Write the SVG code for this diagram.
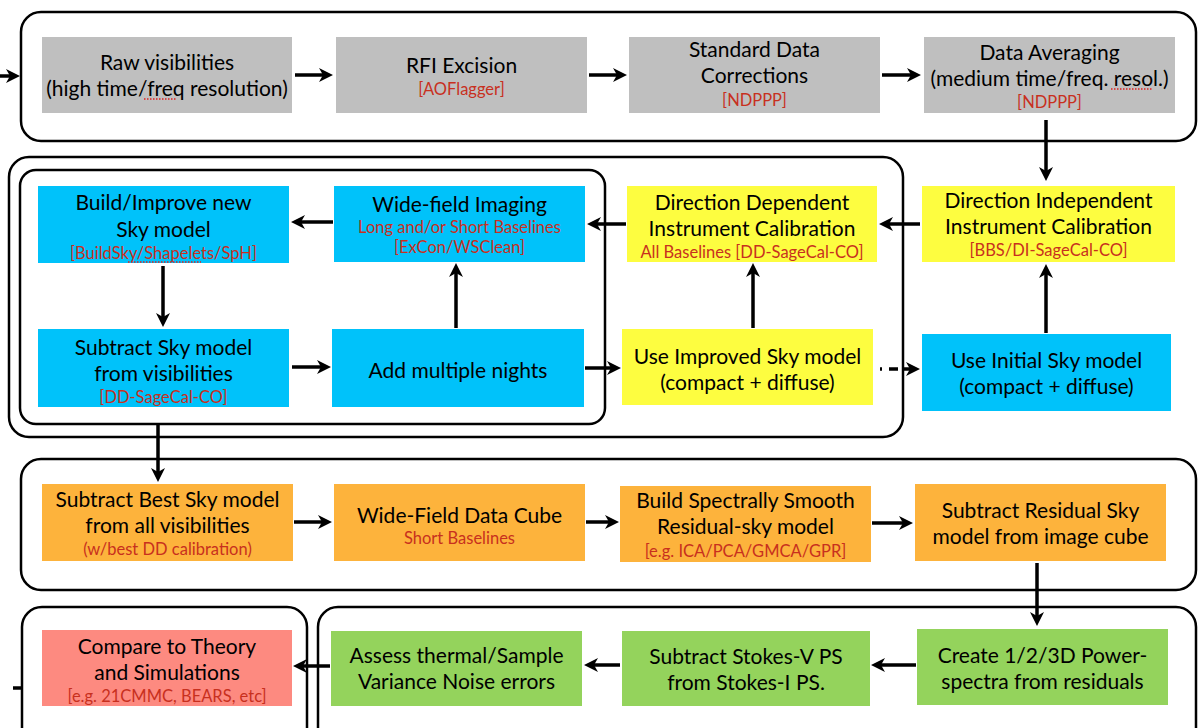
<svg xmlns="http://www.w3.org/2000/svg" width="1198" height="728" viewBox="0 0 1198 728">
<defs>
<style>
.frame{fill:none;stroke:#000;stroke-width:2.5}
.gray{fill:#bfbfbf}
.blue{fill:#00c2fa}
.yellow{fill:#fdfd40}
.orange{fill:#fdb33c}
.green{fill:#94d35c}
.salmon{fill:#fd8a80}
text{font-family:Lato,"Open Sans","Liberation Sans",sans-serif;text-anchor:middle}
.t{font-size:21px;fill:#000}
.r{font-size:16.5px;fill:#c8301e}
.c{fill:none;stroke:#000;stroke-width:3.5}
.sq{fill:none;stroke:#e02020;stroke-width:1.5;stroke-dasharray:1.5 1.5}
</style>
<marker id="ah" viewBox="0 0 14 14" refX="8" refY="7" markerWidth="14" markerHeight="14" markerUnits="userSpaceOnUse" orient="auto">
<path d="M0,0 L14,7 L0,14 L4,7 z" fill="#000"/>
</marker>
</defs>
<rect width="1198" height="728" fill="#fff"/>
<g id="frames">
<rect class="frame" x="21" y="12" width="1175" height="129" rx="20"/>
<rect class="frame" x="9" y="157" width="894" height="280" rx="20"/>
<rect class="frame" x="20" y="170" width="585" height="254" rx="16"/>
<rect class="frame" x="21" y="459" width="1175" height="131" rx="20"/>
<rect class="frame" x="22" y="607" width="285" height="150" rx="20"/>
<rect class="frame" x="318" y="607" width="878" height="150" rx="20"/>
</g>
<g id="connectors">
<line class="c" x1="0" y1="76" x2="14" y2="76" marker-end="url(#ah)"/>
<line class="c" x1="295" y1="75" x2="327" y2="75" marker-end="url(#ah)"/>
<line class="c" x1="589" y1="75" x2="621" y2="75" marker-end="url(#ah)"/>
<line class="c" x1="882" y1="75" x2="915" y2="75" marker-end="url(#ah)"/>
<line class="c" x1="1046" y1="120" x2="1046" y2="175" marker-end="url(#ah)"/>
<line class="c" x1="920" y1="224" x2="885" y2="224" marker-end="url(#ah)"/>
<line class="c" x1="626" y1="224" x2="593" y2="224" marker-end="url(#ah)"/>
<line class="c" x1="333" y1="222" x2="297" y2="222" marker-end="url(#ah)"/>
<line class="c" x1="163" y1="266" x2="163" y2="321" marker-end="url(#ah)"/>
<line class="c" x1="292" y1="367" x2="325" y2="367" marker-end="url(#ah)"/>
<line class="c" x1="456" y1="328" x2="456" y2="269" marker-end="url(#ah)"/>
<line class="c" x1="585" y1="368" x2="615" y2="368" marker-end="url(#ah)"/>
<line class="c" x1="753" y1="328" x2="753" y2="269" marker-end="url(#ah)"/>
<line class="c" x1="880" y1="369" x2="914" y2="369" stroke-dasharray="2 7 9 6 10" marker-end="url(#ah)"/>
<line class="c" x1="1046" y1="333" x2="1046" y2="270" marker-end="url(#ah)"/>
<line class="c" x1="158" y1="424" x2="158" y2="476" marker-end="url(#ah)"/>
<line class="c" x1="294" y1="522" x2="326" y2="522" marker-end="url(#ah)"/>
<line class="c" x1="586" y1="522" x2="613" y2="522" marker-end="url(#ah)"/>
<line class="c" x1="872" y1="523" x2="907" y2="523" marker-end="url(#ah)"/>
<line class="c" x1="1037" y1="563" x2="1037" y2="620" marker-end="url(#ah)"/>
<line class="c" x1="916" y1="665" x2="877" y2="665" marker-end="url(#ah)"/>
<line class="c" x1="620" y1="665" x2="590" y2="665" marker-end="url(#ah)"/>
<line class="c" x1="330" y1="666" x2="299" y2="666" marker-end="url(#ah)"/>
<line class="c" x1="13" y1="688" x2="22" y2="688"/>
</g>
<g id="raw">
<rect class="gray" x="42" y="37" width="250" height="76"/>
<text class="t" x="167" y="70">Raw visibilities</text>
<text class="t" x="167" y="96">(high time/freq resolution)</text>
<line class="sq" x1="144" y1="99" x2="177" y2="99"/>
</g>
<g id="rfi">
<rect class="gray" x="336" y="37" width="251" height="76"/>
<text class="t" x="461.5" y="73">RFI Excision</text>
<text class="r" x="461.5" y="95">[AOFlagger]</text>
</g>
<g id="stdcorr">
<rect class="gray" x="629" y="37" width="251" height="76"/>
<text class="t" x="754.5" y="57">Standard Data</text>
<text class="t" x="754.5" y="83">Corrections</text>
<text class="r" x="754.5" y="106">[NDPPP]</text>
</g>
<g id="avg">
<rect class="gray" x="924" y="37" width="251" height="76"/>
<text class="t" x="1049.5" y="60">Data Averaging</text>
<text class="t" x="1049.5" y="86">(medium time/freq. resol.)</text>
<line class="sq" x1="1111" y1="89" x2="1153" y2="89"/>
<text class="r" x="1049.5" y="108">[NDPPP]</text>
</g>
<g id="di">
<rect class="yellow" x="922" y="186" width="253" height="76"/>
<text class="t" x="1048.5" y="208">Direction Independent</text>
<text class="t" x="1048.5" y="234">Instrument Calibration</text>
<text class="r" x="1048.5" y="256">[BBS/DI-SageCal-CO]</text>
</g>
<g id="dd">
<rect class="yellow" x="627" y="186" width="250" height="76"/>
<text class="t" x="752" y="210">Direction Dependent</text>
<text class="t" x="752" y="236">Instrument Calibration</text>
<text class="r" x="752" y="258">All Baselines [DD-SageCal-CO]</text>
</g>
<g id="wfi">
<rect class="blue" x="334" y="186" width="251" height="76"/>
<text class="t" x="459.5" y="212">Wide-field Imaging</text>
<text class="r" x="459.5" y="233">Long and/or Short Baselines</text>
<text class="r" x="459.5" y="253">[ExCon/WSClean]</text>
</g>
<g id="build">
<rect class="blue" x="38" y="186" width="251" height="77"/>
<text class="t" x="163.5" y="210">Build/Improve new</text>
<text class="t" x="163.5" y="237">Sky model</text>
<text class="r" x="163.5" y="259">[BuildSky/Shapelets/SpH]</text>
<line class="sq" x1="128" y1="262" x2="201" y2="262"/>
</g>
<g id="subsky">
<rect class="blue" x="38" y="329" width="251" height="78"/>
<text class="t" x="163.5" y="355">Subtract Sky model</text>
<text class="t" x="163.5" y="381">from visibilities</text>
<text class="r" x="163.5" y="403">[DD-SageCal-CO]</text>
</g>
<g id="addnights">
<rect class="blue" x="332" y="329" width="252" height="78"/>
<text class="t" x="458" y="378">Add multiple nights</text>
</g>
<g id="useimp">
<rect class="yellow" x="622" y="329" width="251" height="76"/>
<text class="t" x="747.5" y="364">Use Improved Sky model</text>
<text class="t" x="747.5" y="390">(compact + diffuse)</text>
</g>
<g id="useinit">
<rect class="blue" x="922" y="334" width="249" height="77"/>
<text class="t" x="1046.5" y="368">Use Initial Sky model</text>
<text class="t" x="1046.5" y="394">(compact + diffuse)</text>
</g>
<g id="subbest">
<rect class="orange" x="42" y="484" width="251" height="77"/>
<text class="t" x="167.5" y="507">Subtract Best Sky model</text>
<text class="t" x="167.5" y="533">from all visibilities</text>
<text class="r" x="167.5" y="555">(w/best DD calibration)</text>
</g>
<g id="cube">
<rect class="orange" x="334" y="484" width="251" height="77"/>
<text class="t" x="459.5" y="523">Wide-Field Data Cube</text>
<text class="r" x="459.5" y="544">Short Baselines</text>
</g>
<g id="smooth">
<rect class="orange" x="620" y="486" width="251" height="76"/>
<text class="t" x="745.5" y="508">Build Spectrally Smooth</text>
<text class="t" x="745.5" y="534">Residual-sky model</text>
<text class="r" x="745.5" y="557">[e.g. ICA/PCA/GMCA/GPR]</text>
</g>
<g id="subres">
<rect class="orange" x="915" y="484" width="251" height="77"/>
<text class="t" x="1040.5" y="518">Subtract Residual Sky</text>
<text class="t" x="1040.5" y="544">model from image cube</text>
</g>
<g id="compare">
<rect class="salmon" x="42" y="630" width="250" height="76"/>
<text class="t" x="167" y="654">Compare to Theory</text>
<text class="t" x="167" y="680">and Simulations</text>
<text class="r" x="167" y="702">[e.g. 21CMMC, BEARS, etc]</text>
</g>
<g id="assess">
<rect class="green" x="331" y="631" width="251" height="75"/>
<text class="t" x="456.5" y="663">Assess thermal/Sample</text>
<text class="t" x="456.5" y="689">Variance Noise errors</text>
</g>
<g id="stokes">
<rect class="green" x="622" y="631" width="248" height="75"/>
<text class="t" x="746" y="664">Subtract Stokes-V PS</text>
<text class="t" x="746" y="690">from Stokes-I PS.</text>
</g>
<g id="ps">
<rect class="green" x="917" y="629" width="251" height="76"/>
<text class="t" x="1042.5" y="663">Create 1/2/3D Power-</text>
<text class="t" x="1042.5" y="689">spectra from residuals</text>
</g>
</svg>
